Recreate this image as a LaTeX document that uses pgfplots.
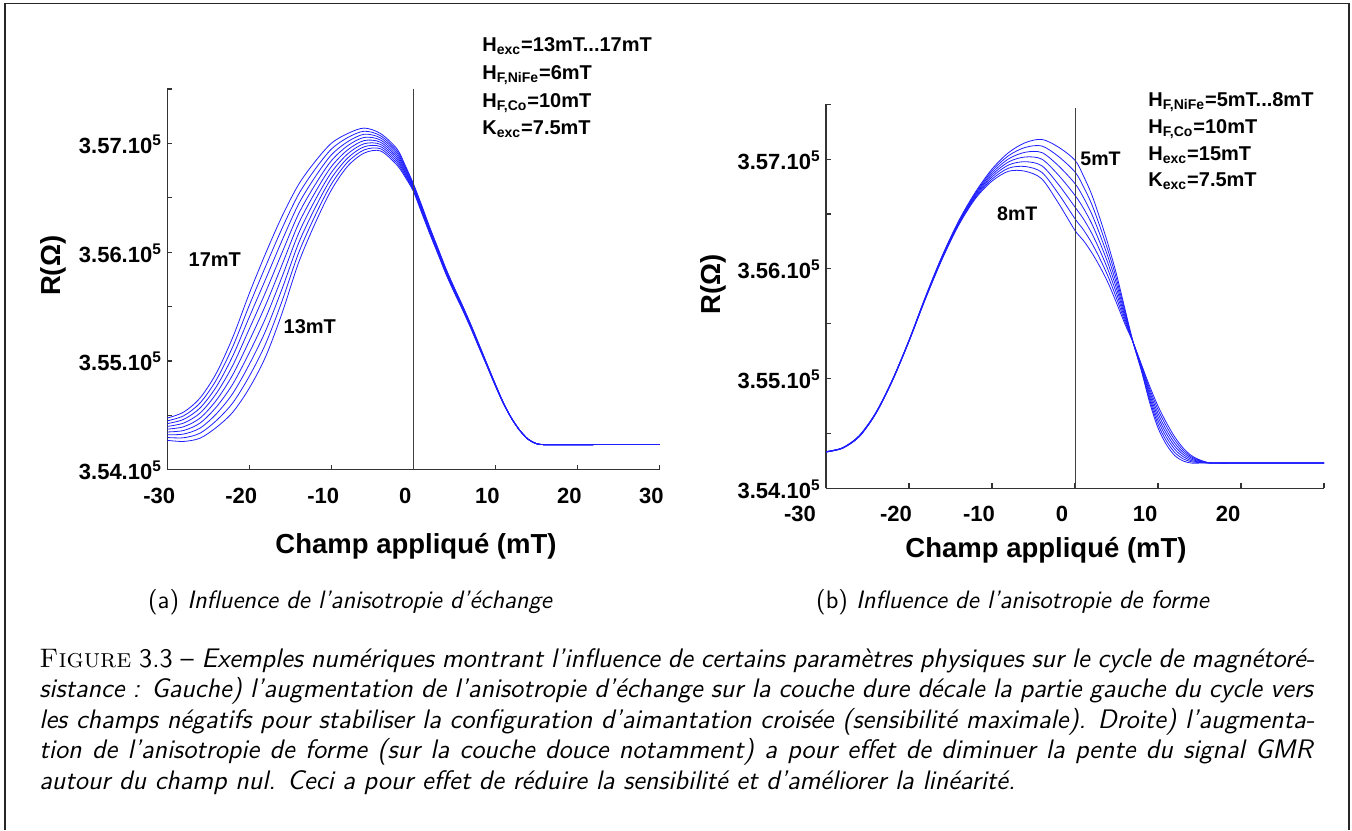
\documentclass[border=0pt]{standalone}
\usepackage{fontspec}
\usepackage{pgfplots}
\usepackage{pgfplotstable}
\pgfplotsset{compat=1.18}
\newfontfamily\pf{Liberation Sans}
\newcommand{\B}{\pf\bfseries}

\pgfplotstableread{
x a0 a1 a2 a3 a4 a5 a6 a7 a8
-30 354270 354296 354321 354347 354373 354398 354424 354449 354475
-28 354260 354294 354328 354361 354395 354429 354463 354496 354530
-26 354290 354336 354383 354429 354475 354521 354568 354614 354660
-24 354390 354453 354515 354578 354640 354703 354765 354828 354890
-22 354530 354616 354703 354789 354875 354961 355048 355134 355220
-20 354750 354859 354968 355076 355185 355294 355403 355511 355620
-18 355040 355159 355278 355396 355515 355634 355753 355871 355990
-16 355440 355551 355663 355774 355885 355996 356108 356219 356330
-14 355900 355990 356080 356170 356260 356350 356440 356530 356620
-12 356260 356331 356403 356474 356545 356616 356688 356759 356830
-10 356570 356624 356678 356731 356785 356839 356893 356946 357000
-8 356790 356828 356865 356903 356940 356978 357015 357053 357090
-6 356910 356939 356968 356996 357025 357054 357083 357111 357140
-4 356930 356950 356970 356990 357010 357030 357050 357070 357090
-2 356800 356819 356838 356856 356875 356894 356913 356931 356950
-1 356690 356704 356718 356731 356745 356759 356773 356786 356800
0 356560 356569 356578 356586 356595 356604 356613 356621 356630
1 356365 356374 356383 356391 356400 356409 356418 356426 356435
2 356170 356178 356185 356193 356200 356208 356215 356223 356230
3 355983 355990 355996 356003 356010 356017 356024 356031 356038
4 355795 355801 355808 355814 355820 355826 355833 355839 355845
5 355628 355633 355639 355644 355650 355656 355661 355667 355673
6 355470 355475 355480 355485 355490 355495 355500 355505 355510
7 355303 355307 355311 355316 355320 355324 355329 355333 355338
8 355125 355129 355133 355136 355140 355144 355148 355151 355155
9 354950 354953 354955 354958 354960 354963 354965 354968 354970
10 354772 354774 354776 354778 354780 354782 354784 354786 354788
11 354606 354607 354608 354609 354610 354611 354612 354613 354614
12 354470 354470 354470 354470 354470 354470 354470 354470 354470
13 354360 354360 354360 354360 354360 354360 354360 354360 354360
14 354280 354280 354280 354280 354280 354280 354280 354280 354280
15 354240 354240 354240 354240 354240 354240 354240 354240 354240
16 354230 354230 354230 354230 354230 354230 354230 354230 354230
18 354230 354230 354230 354230 354230 354230 354230 354230 354230
20 354230 354230 354230 354230 354230 354230 354230 354230 354230
25 354232 354232 354232 354232 354232 354232 354232 354232 354232
30 354232 354232 354232 354232 354232 354232 354232 354232 354232
}\tabA

\pgfplotstableread{
x b0 b1 b2 b3 b4 b5 b6
-30 354335 354334 354333 354333 354332 354331 354330
-28 354370 354369 354368 354368 354367 354366 354365
-26 354480 354478 354477 354475 354473 354472 354470
-24 354690 354688 354687 354685 354683 354682 354680
-22 354990 354988 354987 354985 354983 354982 354980
-20 355350 355348 355347 355345 355343 355342 355340
-18 355750 355747 355743 355740 355737 355733 355730
-16 356120 356115 356110 356105 356100 356095 356090
-14 356440 356433 356427 356420 356413 356407 356400
-12 356700 356690 356680 356670 356660 356650 356640
-10 356910 356892 356873 356855 356837 356818 356800
-8 357060 357032 357003 356975 356947 356918 356890
-6 357150 357107 357063 357020 356977 356933 356890
-4 357180 357120 357060 357000 356940 356880 356820
-2 357110 357025 356940 356855 356770 356685 356600
0 356990 356883 356777 356670 356563 356457 356350
1 356850 356752 356653 356555 356457 356358 356260
2 356680 356592 356503 356415 356327 356238 356150
3 356460 356387 356313 356240 356167 356093 356020
4 356220 356162 356103 356045 355987 355928 355870
5 355950 355907 355863 355820 355777 355733 355690
6 355640 355617 355593 355570 355547 355523 355500
7 355330 355330 355330 355330 355330 355330 355330
8 355070 355080 355090 355100 355110 355120 355130
9 354780 354805 354830 354855 354880 354905 354930
10 354550 354583 354617 354650 354683 354717 354750
11 354400 354433 354467 354500 354533 354567 354600
12 354300 354328 354357 354385 354413 354442 354470
13 354250 354270 354290 354310 354330 354350 354370
14 354230 354242 354253 354265 354277 354288 354300
15 354230 354235 354240 354245 354250 354255 354260
16 354230 354231 354232 354233 354233 354234 354235
17 354230 354230 354230 354230 354230 354230 354230
20 354230 354230 354230 354230 354230 354230 354230
25 354230 354230 354230 354230 354230 354230 354230
30 354230 354230 354230 354230 354230 354230 354230
}\tabB

\pgfplotsset{gmr/.style={
  scale only axis,
  axis x line*=bottom, axis y line*=left,
  axis line style={black!80, line width=0.6pt, -},
  tick style={black!80, line width=0.6pt},
  tick align=inside,
  major tick length=2.5pt, minor tick length=2.5pt,
  xmin=-30, xmax=30, ymin=354000, ymax=357500,
  scaled y ticks=false, scaled x ticks=false,
  xtick={-30,-20,...,30},
  ytick={354000,355000,356000,357000},
  minor ytick={354500,355500,356500,357500},
  yticklabels={3.54.10\textsuperscript{5},3.55.10\textsuperscript{5},3.56.10\textsuperscript{5},3.57.10\textsuperscript{5}},
  yticklabel style={font=\B\fontsize{11}{13}\selectfont, anchor=base east, inner sep=0pt, xshift=-2.5pt, yshift=-5pt},
}}
\definecolor{curveblue}{RGB}{30,30,255}
\tikzset{gcurve/.style={color=curveblue, line width=0.4pt, smooth, mark=none, solid}}

\begin{document}
\begin{tikzpicture}
\begin{scope}[x=0.5pt, y=-0.5pt]
\useasboundingbox (0,0) rectangle (1352,825);
\end{scope}

% left axis
\begin{axis}[gmr, at={(83.65pt,-234.85pt)}, anchor=south west,
  width=246pt, height=190.4pt,
  xticklabels={-30,-20,-10,0,10,20,30},
  xticklabel style={font=\B\fontsize{11}{13}\selectfont, anchor=base, inner sep=0pt, yshift=-16.8pt, xshift=-4pt}]
\pgfplotsinvokeforeach{0,...,8}{\addplot[gcurve] table[x=x, y=a#1]{\tabA};}
\draw[black!75, line width=0.5pt] (axis cs:0,354000) -- (axis cs:0,357500);
\end{axis}

% right axis
\begin{axis}[gmr, at={(413pt,-244.15pt)}, anchor=south west,
  width=249pt, height=192pt,
  xticklabels={{\kern-13pt{}-30},-20,-10,0,10,20,{}},
  xticklabel style={font=\B\fontsize{11}{13}\selectfont, anchor=base, inner sep=0pt, yshift=-16.7pt, xshift=-6.5pt}]
\pgfplotsinvokeforeach{0,...,6}{\addplot[gcurve] table[x=x, y=b#1]{\tabB};}
\draw[black!75, line width=0.5pt] (axis cs:0,354000) -- (axis cs:0,357470);
\end{axis}

\begin{scope}[x=0.5pt, y=-0.5pt]
% frame
\draw[black!85, line width=0.7pt] (5,830) -- (5,3.5) -- (1349,3.5) -- (1349,830);

% left annotations
\begin{scope}[every node/.style={anchor=base west, inner sep=0pt, font=\B\fontsize{10}{12}\selectfont}]
\node at (482,51.5) {H\textsubscript{exc}=13mT...17mT};
\node at (482,79.3) {H\textsubscript{F,NiFe}=6mT};
\node at (482,107.1) {H\textsubscript{F,Co}=10mT};
\node at (482,134.9) {K\textsubscript{exc}=7.5mT};
\node at (188.3,266.7) {17mT};
\node at (283.3,333.3) {13mT};
\end{scope}
\begin{scope}[every node/.style={anchor=base west, inner sep=0pt, font=\B\fontsize{10}{12}\selectfont}]
\node at (1148,106) {H\textsubscript{F,NiFe}=5mT...8mT};
\node at (1148,133.3) {H\textsubscript{F,Co}=10mT};
\node at (1148,160) {H\textsubscript{exc}=15mT};
\node at (1148,186.7) {K\textsubscript{exc}=7.5mT};
\end{scope}
\node[anchor=base west, inner sep=0pt, font=\B\fontsize{9.8}{12}\selectfont] at (1080,165) {5mT};
\node[anchor=base west, inner sep=0pt, font=\B\fontsize{9.8}{12}\selectfont] at (996.7,220) {8mT};

% axis labels
\node[rotate=90, anchor=base, inner sep=0pt, font=\B\fontsize{13.75}{16}\selectfont] at (60,265.8) {R(Ω)};
\node[rotate=90, anchor=base, inner sep=0pt, font=\B\fontsize{13.75}{16}\selectfont] at (720,284.2) {R(Ω)};
\node[anchor=base, inner sep=0pt, font=\B\fontsize{13.75}{16}\selectfont] at (416,553) {Champ appliqué (mT)};
\node[anchor=base, inner sep=0pt, font=\B\fontsize{13.75}{16}\selectfont] at (1046,557.3) {Champ appliqué (mT)};

% subcaptions
\node[anchor=base, inner sep=0pt, font=\sffamily\fontsize{12.6}{15}\selectfont] at (350.5,608) {(a) \textit{Influence de l’anisotropie d’échange}};
\node[anchor=base, inner sep=0pt, font=\sffamily\fontsize{12.6}{15}\selectfont] at (1013,608) {(b) \textit{Influence de l’anisotropie de forme}};

% caption
\begin{scope}[every node/.style={anchor=base west, inner sep=0pt, font=\sffamily\fontsize{13.4}{15}\selectfont}]
\node at (39,667) {\makebox[637.5pt][s]{{\rmfamily\textsc{Figure}} 3.3 – \textit{Exemples numériques montrant l’influence de certains paramètres physiques sur le cycle de magnétoré-}}};
\node at (39,697.5) {\makebox[637.5pt][s]{\textit{sistance : Gauche) l’augmentation de l’anisotropie d’échange sur la couche dure décale la partie gauche du cycle vers}}};
\node at (39,728) {\makebox[637.5pt][s]{\textit{les champs négatifs pour stabiliser la configuration d’aimantation croisée (sensibilité maximale). Droite) l’augmenta-}}};
\node at (39,758.5) {\makebox[637.5pt][s]{\textit{tion de l’anisotropie de forme (sur la couche douce notamment) a pour effet de diminuer la pente du signal GMR}}};
\node at (39,789) {\textit{autour du champ nul. Ceci a pour effet de réduire la sensibilité et d’améliorer la linéarité.}};
\end{scope}
\end{scope}
\end{tikzpicture}
\end{document}
